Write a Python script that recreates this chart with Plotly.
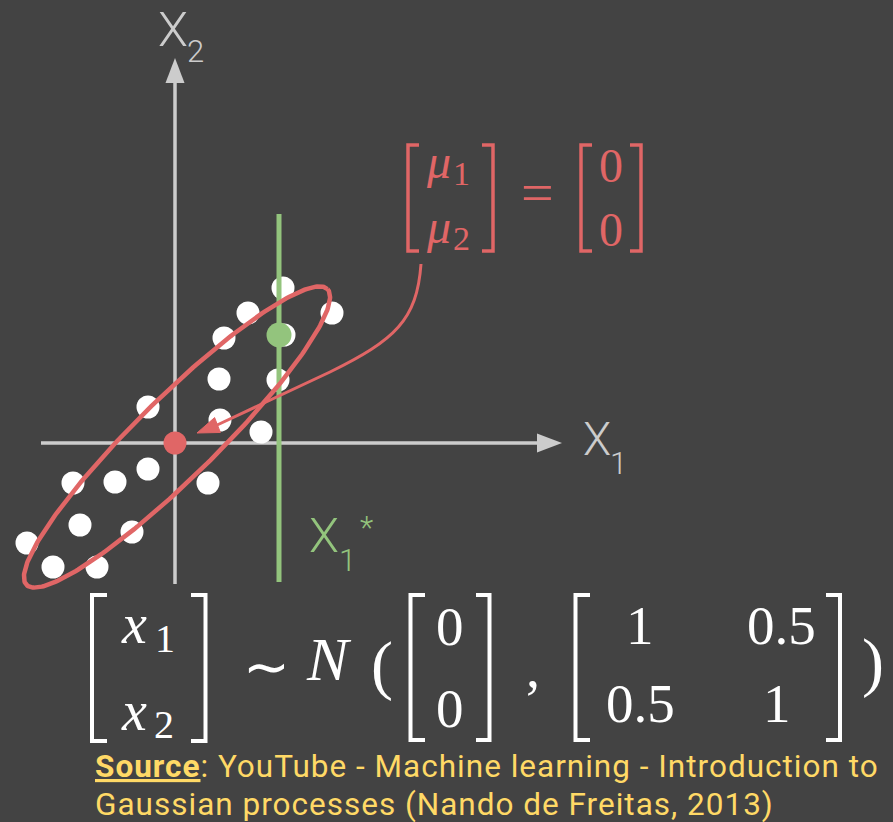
import numpy as np
import plotly.graph_objects as go

# ---------------------------------------------------------------------------
# Canvas: one data unit = 100 px, origin of the (x1, x2) axes at pixel (175, 443)
# ---------------------------------------------------------------------------
W, H = 893, 822
S = 100.0
OX, OY = 175, 443


def dx(px):
    return (px - OX) / S


def dy(py):
    return (OY - py) / S


# ---------------------------------------------------------------------------
# Data
# ---------------------------------------------------------------------------
sample_x1 = [1.08, 0.73, 1.57, 0.49, 1.09, 0.44, 1.03, -0.27, 0.45, 0.86,
             -0.27, -0.60, -1.02, 0.33, -0.95, -0.43, -1.48, -1.22, -0.78]
sample_x2 = [1.55, 1.30, 1.30, 1.05, 1.08, 0.64, 0.63, 0.36, 0.23, 0.11,
             -0.26, -0.39, -0.40, -0.40, -0.82, -0.89, -1.00, -1.24, -1.24]

mean = [0, 0]
cov = [[1, 0.5], [0.5, 1]]

x1_star = 1.04          # conditioning location X1*
x2_at_star = 1.08       # point on the green line
star_line_y = [2.29, -1.39]

# density contour drawn around the samples
ell_center = [0.02, 0.06]
ell_axes = [2.11, 0.40]
ell_angle_deg = 44.5

source_lines = [
    '<span style="text-decoration:underline"><b>Source</b></span>'
    ': YouTube - Machine learning - Introduction to',
    "Gaussian processes (Nando de Freitas, 2013)",
]

# ---------------------------------------------------------------------------
# Styling
# ---------------------------------------------------------------------------
BG = "#434343"
AXIS = "#cccccc"
RED = "#e06666"
GREEN = "#93c47d"
YELLOW = "#ffd966"
WHITE = "#ffffff"
SERIF = "Liberation Serif"
LABEL_FONT = "Roboto"
NOTE_FONT = "Roboto"

fig = go.Figure()

# sample points
fig.add_trace(go.Scatter(
    x=sample_x1, y=sample_x2, mode="markers",
    marker=dict(size=23, color=WHITE, line=dict(width=0)),
    hoverinfo="skip"))

# X1* line
fig.add_trace(go.Scatter(
    x=[x1_star, x1_star], y=star_line_y, mode="lines",
    line=dict(color=GREEN, width=5), hoverinfo="skip"))

# ellipse contour
t = np.linspace(0, 2 * np.pi, 300)
th = np.deg2rad(ell_angle_deg)
ex = ell_center[0] + ell_axes[0] * np.cos(t) * np.cos(th) - ell_axes[1] * np.sin(t) * np.sin(th)
ey = ell_center[1] + ell_axes[0] * np.cos(t) * np.sin(th) + ell_axes[1] * np.sin(t) * np.cos(th)
fig.add_trace(go.Scatter(
    x=ex, y=ey, mode="lines", line=dict(color=RED, width=4.5), hoverinfo="skip"))

# point on the conditioning line
fig.add_trace(go.Scatter(
    x=[x1_star], y=[x2_at_star], mode="markers",
    marker=dict(size=25, color=GREEN, line=dict(width=0)), hoverinfo="skip"))

# mean
fig.add_trace(go.Scatter(
    x=[mean[0]], y=[mean[1]], mode="markers",
    marker=dict(size=23, color=RED, line=dict(width=0)), hoverinfo="skip"))

# ---------------------------------------------------------------------------
# Axes with arrow heads
# ---------------------------------------------------------------------------
shapes = []
shapes.append(dict(type="line", layer="below", x0=dx(41), y0=0, x1=dx(540), y1=0,
                   line=dict(color=AXIS, width=3.5)))
shapes.append(dict(type="line", layer="below", x0=0, y0=dy(584), x1=0, y1=dy(80),
                   line=dict(color=AXIS, width=3.5)))
hw = 9.5 / S
shapes.append(dict(type="path", layer="below",
                   path=f"M {dx(562)},0 L {dx(537)},{hw} L {dx(537)},{-hw} Z",
                   fillcolor=AXIS, line=dict(width=0)))
shapes.append(dict(type="path", layer="below",
                   path=f"M 0,{dy(58)} L {hw},{dy(83)} L {-hw},{dy(83)} Z",
                   fillcolor=AXIS, line=dict(width=0)))

# curved pointer from the mean label to the mean
arrow_px = [(421, 264), (417, 320), (395, 340), (330, 372), (215, 426)]
arrow_tip_px = (197, 433)
p = [(dx(a), dy(b)) for a, b in arrow_px]
shapes.append(dict(
    type="path",
    path=(f"M {p[0][0]},{p[0][1]} C {p[1][0]},{p[1][1]} {p[2][0]},{p[2][1]} "
          f"{p[3][0]},{p[3][1]} L {p[4][0]},{p[4][1]}"),
    line=dict(color=RED, width=3)))
tip = np.array([dx(arrow_tip_px[0]), dy(arrow_tip_px[1])])
d = tip - np.array(p[4])
d = d / np.hypot(*d)
nrm = np.array([-d[1], d[0]])
base = tip - d * 0.22
c1 = base + nrm * 0.08
c2 = base - nrm * 0.08
shapes.append(dict(type="path",
                   path=f"M {tip[0]},{tip[1]} L {c1[0]},{c1[1]} L {c2[0]},{c2[1]} Z",
                   fillcolor=RED, line=dict(color=RED, width=1)))


def bracket(xv, xs, yt, yb, color, width):
    shapes.append(dict(type="path",
                       path=f"M {dx(xs)},{dy(yt)} L {dx(xv)},{dy(yt)} L {dx(xv)},{dy(yb)} L {dx(xs)},{dy(yb)}",
                       line=dict(color=color, width=width)))


# white formula brackets
bracket(92, 107, 595, 741, WHITE, 4)
bracket(205.5, 191, 595, 741, WHITE, 4)
bracket(410.5, 425, 595, 740, WHITE, 4)
bracket(489.5, 476, 595, 740, WHITE, 4)
bracket(575.5, 590, 595, 740, WHITE, 4)
bracket(840, 826, 595, 740, WHITE, 4)
# red mean brackets
bracket(408, 419, 145, 251, RED, 3.5)
bracket(493, 482, 145, 251, RED, 3.5)
bracket(581, 592, 145, 251, RED, 3.5)
bracket(641, 630, 145, 251, RED, 3.5)

fig.update_layout(shapes=shapes)


# ---------------------------------------------------------------------------
# Text
# ---------------------------------------------------------------------------
def txt(px, py, s, size, color, family=SERIF, xanchor="center", yanchor="middle",
        weight=None, **kw):
    font = dict(family=family, size=size, color=color)
    if weight is not None:
        font["weight"] = weight
    fig.add_annotation(x=dx(px), y=dy(py), text=s, showarrow=False,
                       xanchor=xanchor, yanchor=yanchor, font=font, **kw)


def num(v):
    return f"{v:g}"


# axis labels
txt(172.5, 29, "X", 49, AXIS, LABEL_FONT, weight=300, borderpad=0)
txt(195.5, 51, "2", 31, AXIS, LABEL_FONT, weight=300, borderpad=0)
txt(596.5, 439, "X", 46, AXIS, LABEL_FONT, weight=300, borderpad=0)
txt(618, 463, "1", 31, AXIS, LABEL_FONT, weight=300, borderpad=0)
txt(324, 535.5, "X", 49, GREEN, LABEL_FONT, weight=300, borderpad=0)
txt(347, 560, "1", 31, GREEN, LABEL_FONT, weight=300, borderpad=0)
txt(366, 527, "*", 31, GREEN, LABEL_FONT, weight=300, borderpad=0)

# mean vector label
txt(438, 161, "<i>μ</i>", 48, RED)
txt(461, 173.5, "1", 34, RED)
txt(438, 226, "<i>μ</i>", 48, RED)
txt(461, 238.5, "2", 34, RED)
txt(537, 192, "=", 58, RED)
txt(611, 165.5, num(mean[0]), 48, RED)
txt(611, 229.5, num(mean[1]), 48, RED)

# distribution formula
txt(133.5, 624, "<i>x</i>", 56, WHITE)
txt(164.5, 638.5, "1", 40, WHITE)
txt(133.5, 711, "<i>x</i>", 56, WHITE)
txt(164, 724.5, "2", 40, WHITE)
txt(266.5, 667, "∼", 56, WHITE)
txt(328.5, 658.5, "<i>N</i>", 62, WHITE)
txt(382, 665, "(", 66, WHITE)
txt(449.5, 626.5, num(mean[0]), 55, WHITE)
txt(449.5, 708.5, num(mean[1]), 55, WHITE)
txt(533, 668, ",", 56, WHITE)
txt(640, 625, num(cov[0][0]), 55, WHITE)
txt(781.5, 625, num(cov[0][1]), 55, WHITE)
txt(640, 703.5, num(cov[1][0]), 55, WHITE)
txt(777, 703.5, num(cov[1][1]), 55, WHITE)
txt(872.5, 662, ")", 66, WHITE)

# source note: base size sets the line pitch, spans set the glyph size
SRC_PITCH_SIZE = 29
SRC_SIZE = 31.5
src = "<br>".join(
    f'<span style="font-size:{SRC_SIZE}px;letter-spacing:1px">{ln}</span>'
    for ln in source_lines)
txt(94, 746.5, src, SRC_PITCH_SIZE, YELLOW, NOTE_FONT, xanchor="left", yanchor="top",
    align="left", borderpad=0)

fig.update_layout(
    width=W, height=H, autosize=False,
    margin=dict(l=0, r=0, t=0, b=0, pad=0),
    paper_bgcolor=BG, plot_bgcolor=BG,
    showlegend=False,
    xaxis=dict(visible=False, range=[dx(0), dx(W)], fixedrange=True),
    yaxis=dict(visible=False, range=[dy(H), dy(0)], fixedrange=True),
)

fig.write_html("out.html")
